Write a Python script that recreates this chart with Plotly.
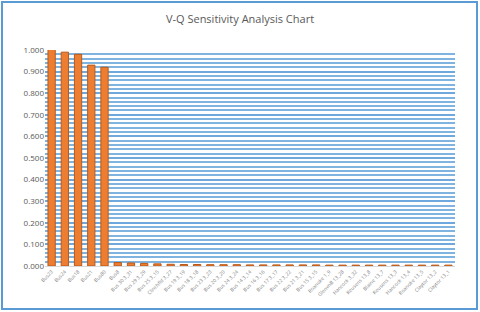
import plotly.graph_objects as go

categories = [
    "Bus23", "Bus24", "Bus18", "Bus21", "Bus80", "Bus8",
    "Bus 30 3_31", "Bus 29 3_29", "Bus 25 3_15", "Clinchfld 3_27",
    "Bus 19 3_19", "Bus 18 3_18", "Bus 23 3_23", "Bus 20 3_20",
    "Bus 24 3_24", "Bus 14 3_14", "Bus 16 3_16", "Bus 17 3_17",
    "Bus 22 3_22", "Bus 21 3_21", "Bus 15 3_15", "Roanoke 1_9",
    "GlenvnB 13_28", "Hancock 3_32", "Reusens 13_8", "Blaine 13_7",
    "Reusens 13_3", "Hancock 13_4", "Roanoke 13_5", "Claytor 13_2",
    "Claytor 13_1",
]
values = [
    1.005, 0.990, 0.980, 0.930, 0.920, 0.016,
    0.014, 0.012, 0.010, 0.008,
    0.007, 0.007, 0.006, 0.006,
    0.006, 0.005, 0.005, 0.005,
    0.005, 0.005, 0.005, 0.004,
    0.004, 0.004, 0.004, 0.004,
    0.004, 0.004, 0.004, 0.004,
    0.004,
]
y_ticks = [i / 10 for i in range(11)]
y_tick_text = [f"{v:.3f}" for v in y_ticks]

fig = go.Figure(go.Bar(
    x=categories, y=values,
    marker=dict(color="#ED7D31", line=dict(color="#B85A1C", width=1)),
    cliponaxis=False,
))

L, R, T, B = 45, 455, 50, 266
W, H = R - L, B - T

def px(x):
    return (x - L) / W

def py(y):
    return (B - y) / H

fig.update_layout(
    width=480, height=312,
    margin=dict(l=L, r=480 - R, t=T, b=312 - B),
    paper_bgcolor="white", plot_bgcolor="white",
    showlegend=False, bargap=0.45,
    title=dict(text="V-Q Sensitivity Analysis Chart", x=0.5, xanchor="center",
               y=1 - 19 / 312, yanchor="middle",
               font=dict(family="Open Sans", size=11, color="#595959")),
    font=dict(family="Open Sans", color="#595959"),
    xaxis=dict(tickangle=-45, tickfont=dict(size=5, color="#808080"),
               showgrid=False, showline=True, linecolor="#d9d9d9", ticks=""),
    yaxis=dict(range=[0, 1.0], tickvals=y_ticks, ticktext=y_tick_text,
               tickfont=dict(size=8, color="#595959"),
               showgrid=True, gridcolor="#6FA8DC", gridwidth=1.5,
               minor=dict(dtick=0.02, showgrid=True, gridcolor="#7FB3E0", gridwidth=1.5),
               zeroline=False, ticks=""),
    shapes=[dict(type="rect", xref="paper", yref="paper",
                 x0=px(2), x1=px(477), y0=py(309), y1=py(2),
                 line=dict(color="#5B9BD5", width=2), layer="above")],
)

fig.write_html(
    "out.html",
    config={"displayModeBar": False},
    post_script="document.body.style.margin='0';document.body.style.overflow='hidden';",
)
